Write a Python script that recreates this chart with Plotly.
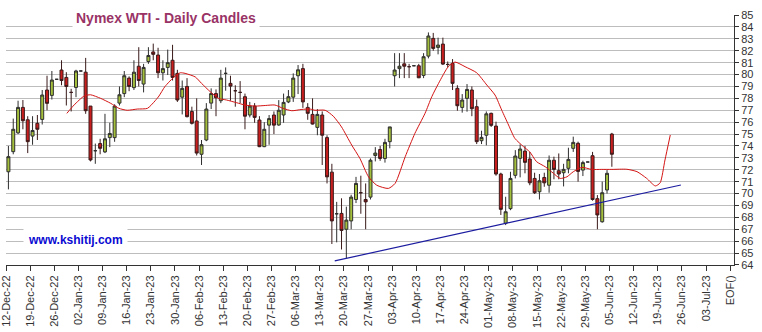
import plotly.graph_objects as go

# Daily OHLC, one slot per weekday starting 12-Dec-22
day = list(range(126))
open_ = [71.83, 73.52, 75.1, 77.24, 76.2, 74.83, 75.9, 76.23, 78.7, 78.25,
         79.6, 80.38, 79.76, 78.5, 78.92, 80.3, 80.2, 77.35, 73.6, 74.2,
         73.5, 74.7, 74.7, 77.6, 78.4, 79.7, 78.9, 80.7, 79.2, 81.1,
         81.9, 81.64, 80.15, 80.6, 81.2, 80.1, 78.1, 79.0, 76.9, 76.1,
         73.3, 74.5, 77.6, 78.4, 77.8, 80.1, 79.26, 78.64, 78.5, 78.14,
         76.6, 77.35, 76.18, 73.94, 75.75, 76.6, 75.76, 76.6, 77.7, 78.1,
         79.9, 80.5, 77.24, 76.65, 75.56, 76.6, 74.7, 71.8, 68.3, 68.33,
         67.0, 67.7, 69.5, 70.07, 69.5, 69.7, 73.2, 73.7, 72.95, 74.36,
         79.9, 80.5, 80.9, 80.66, 80.74, 80.74, 79.93, 81.55, 83.04, 82.28,
         82.56, 80.85, 80.94, 78.84, 77.24, 78.0, 78.7, 77.3, 74.44, 74.9,
         76.74, 75.67, 71.64, 67.5, 68.73, 71.53, 72.96, 73.57, 72.9, 71.27,
         70.15, 71.35, 70.7, 72.8, 71.92, 71.75, 72.12, 73.8, 74.22, 71.97,
         72.65, 73.18, 69.57, 67.63, 70.3, 75.0]
high = [74.0, 76.3, 77.8, 77.86, 76.5, 76.5, 76.6, 78.7, 79.9, 80.3,
        79.6, 81.2, 80.2, 78.8, 80.4, 80.3, 81.4, 77.35, 74.2, 74.6,
        76.7, 75.95, 77.5, 79.0, 80.3, 79.85, 81.2, 82.3, 80.9, 82.3,
        82.6, 82.25, 81.2, 82.1, 82.5, 80.4, 79.5, 79.7, 77.3, 78.0,
        74.5, 77.6, 78.84, 78.75, 80.4, 80.6, 79.9, 79.1, 79.45, 78.4,
        77.7, 77.6, 76.5, 76.0, 76.6, 76.9, 77.85, 78.4, 78.7, 80.1,
        80.8, 80.9, 77.6, 78.0, 77.1, 76.9, 74.9, 72.5, 69.3, 69.6,
        68.9, 69.9, 71.4, 71.5, 70.85, 72.95, 73.9, 74.0, 74.6, 75.6,
        81.8, 81.8, 81.8, 80.9, 80.74, 80.9, 81.8, 83.54, 83.5, 83.1,
        83.1, 81.1, 81.3, 79.1, 78.36, 79.2, 79.0, 77.9, 75.28, 76.9,
        76.8, 76.04, 71.75, 69.73, 71.83, 73.65, 74.13, 74.0, 73.5, 71.75,
        71.64, 71.75, 73.2, 73.1, 73.37, 72.5, 73.85, 74.78, 74.36, 72.76,
        72.65, 73.5, 69.87, 71.0, 71.97, 75.1]
low = [70.35, 73.3, 75.0, 75.4, 73.4, 74.1, 74.5, 75.8, 77.0, 77.9,
       79.6, 79.1, 77.4, 76.9, 78.1, 80.3, 76.7, 72.7, 72.5, 73.3,
       73.4, 73.9, 74.35, 77.4, 78.1, 78.6, 78.7, 79.0, 78.5, 80.9,
       81.2, 79.7, 79.5, 79.96, 79.5, 77.7, 76.65, 76.4, 75.8, 73.2,
       72.4, 74.4, 77.1, 76.5, 77.6, 78.64, 77.8, 77.3, 77.6, 75.4,
       76.4, 75.95, 73.9, 73.9, 74.1, 75.0, 75.7, 75.95, 77.6, 77.7,
       78.36, 77.2, 76.2, 75.8, 74.9, 72.4, 70.85, 65.76, 65.9, 65.3,
       64.55, 67.0, 69.2, 68.3, 67.0, 69.5, 72.7, 72.75, 72.6, 73.8,
       79.0, 79.7, 79.7, 79.7, 80.74, 79.7, 79.7, 81.36, 82.0, 81.7,
       80.8, 80.6, 78.7, 76.96, 76.8, 76.88, 76.5, 74.16, 74.16, 74.05,
       75.6, 71.5, 68.2, 67.35, 68.6, 71.27, 71.36, 71.7, 70.7, 69.96,
       69.5, 70.57, 70.07, 71.2, 71.2, 70.6, 71.7, 73.5, 71.0, 71.47,
       72.65, 69.4, 67.0, 67.55, 70.0, 72.25]
close = [73.1, 75.4, 77.24, 76.12, 74.36, 75.3, 75.4, 78.28, 77.58, 79.54,
         79.6, 79.5, 79.0, 78.5, 80.3, 80.3, 76.96, 72.82, 73.6, 73.8,
         74.6, 75.05, 77.35, 78.3, 79.9, 79.0, 80.2, 79.5, 80.6, 81.6,
         81.7, 80.15, 80.5, 81.0, 79.76, 77.86, 78.84, 76.46, 75.9, 73.4,
         74.1, 77.1, 78.4, 78.05, 79.7, 80.1, 79.03, 78.64, 78.5, 76.5,
         77.35, 76.4, 73.94, 75.4, 76.3, 75.75, 77.0, 77.66, 78.14, 79.7,
         80.4, 77.7, 76.74, 75.84, 76.65, 74.9, 71.4, 67.7, 68.3, 66.9,
         67.77, 69.7, 70.85, 70.07, 69.3, 72.8, 73.4, 72.95, 74.3, 75.6,
         80.38, 80.7, 80.7, 80.66, 80.74, 79.73, 81.5, 83.24, 82.2, 82.48,
         80.88, 80.85, 79.26, 77.38, 77.86, 78.75, 77.13, 74.36, 74.72, 76.7,
         75.73, 71.64, 68.67, 68.47, 71.27, 73.15, 73.74, 72.62, 70.9, 70.07,
         71.07, 70.9, 72.8, 72.03, 71.64, 72.03, 72.87, 74.3, 71.86, 72.6,
         72.65, 69.5, 68.2, 70.07, 71.7, 73.3]

# Forward-displaced moving average
ma_day = [12.1, 13.6, 15.7, 17.0, 19.1, 21.2, 22.9, 24.6, 26.7, 28.8,
          30.4, 31.2, 32.4, 34.5, 35.6, 36.6, 38.7, 40.0, 41.8, 43.5,
          45.2, 47.3, 49.0, 51.1, 53.2, 55.2, 56.9, 58.7, 60.8, 62.5,
          63.5, 65.6, 67.3, 69.0, 71.1, 72.8, 74.6, 76.3, 78.7, 80.1,
          82.2, 84.2, 86.3, 87.7, 89.1, 91.1, 92.5, 94.6, 97.0, 99.1,
          100.8, 102.2, 103.6, 104.9, 106.7, 108.0, 109.4, 111.2, 112.9, 114.3,
          115.7, 117.0, 118.8, 120.8, 122.9, 125.0, 128.1, 130.2, 132.2, 134.0,
          135.0, 136.0, 137.1]
ma_val = [76.74, 77.44, 78.2, 78.3, 78.0, 77.58, 77.16, 77.0, 77.1, 77.16,
          77.8, 78.2, 78.98, 79.87, 80.15, 80.1, 79.8, 79.26, 78.56, 78.0,
          77.86, 77.63, 77.44, 77.35, 77.4, 77.44, 77.16, 76.96, 77.07, 77.1,
          77.0, 77.0, 76.5, 75.6, 74.08, 72.96, 71.4, 70.7, 70.43, 70.85,
          73.1, 75.06, 76.74, 78.14, 79.26, 80.66, 81.05, 80.66, 80.15, 79.12,
          78.28, 77.0, 75.76, 74.64, 73.94, 73.5, 72.68, 72.25, 71.7, 71.27,
          71.41, 71.83, 72.2, 72.03, 72.03, 72.03, 72.04, 71.84, 71.28, 70.64,
          70.9, 72.82, 74.92]

# Support trend line (start and end)
trend_day = [67.6, 139.3]
trend_val = [64.34, 70.72]

tick_labels = ["12-Dec-22", "19-Dec-22", "26-Dec-22", "02-Jan-23", "09-Jan-23",
               "16-Jan-23", "23-Jan-23", "30-Jan-23", "06-Feb-23", "13-Feb-23",
               "20-Feb-23", "27-Feb-23", "06-Mar-23", "13-Mar-23", "20-Mar-23",
               "27-Mar-23", "03-Apr-23", "10-Apr-23", "17-Apr-23", "24-Apr-23",
               "01-May-23", "08-May-23", "15-May-23", "22-May-23", "29-May-23",
               "05-Jun-23", "12-Jun-23", "19-Jun-23", "26-Jun-23", "03-Jul-23",
               "EOF()"]
tick_pos = [5 * k for k in range(len(tick_labels))]

FONT = "Arial, 'Liberation Sans', sans-serif"
slot = [d + 0.5 for d in day]

fig = go.Figure()
fig.add_trace(go.Candlestick(
    x=slot, open=open_, high=high, low=low, close=close,
    increasing=dict(fillcolor="#a3bf3c", line=dict(color="#2e2e2e", width=1)),
    decreasing=dict(fillcolor="#c81e1e", line=dict(color="#3a1a1a", width=1)),
    whiskerwidth=0, showlegend=False, hoverinfo="skip",
))
fig.add_trace(go.Scatter(
    x=[d + 0.5 for d in ma_day], y=ma_val, mode="lines",
    line=dict(color="#d41414", width=1, shape="spline", smoothing=0.6),
    showlegend=False, hoverinfo="skip",
))
fig.add_trace(go.Scatter(
    x=[d + 0.5 for d in trend_day], y=trend_val, mode="lines",
    line=dict(color="#1c1ca0", width=1.2),
    showlegend=False, hoverinfo="skip",
))

fig.add_annotation(
    text="<b>Nymex WTI - Daily Candles</b>", xref="paper", yref="paper",
    x=0.091, y=0.988, xanchor="left", yanchor="middle", showarrow=False,
    font=dict(family=FONT, size=14, color="#993366"),
    bgcolor="white", borderpad=3,
)
fig.add_annotation(
    text="<b>www.kshitij.com</b>", xref="paper", yref="paper",
    x=0.024, y=0.1, xanchor="left", yanchor="middle", showarrow=False,
    font=dict(family=FONT, size=12, color="#0a0ad2"),
    bgcolor="white", borderpad=4,
)

fig.update_layout(
    width=762, height=332,
    margin=dict(l=6, r=28, t=15, b=67, autoexpand=False),
    paper_bgcolor="white", plot_bgcolor="white",
    boxgap=0.12,
    font=dict(family=FONT, size=11, color="#333333"),
    xaxis=dict(
        range=[0, 150.8], rangeslider=dict(visible=False),
        tickmode="array", tickvals=tick_pos, ticktext=tick_labels,
        tickangle=-90, ticks="outside", ticklen=5, tickcolor="#333333",
        ticklabeloverflow="allow", automargin=False,
        showgrid=False, showline=True, linecolor="#333333", linewidth=1,
        zeroline=False, tickfont=dict(size=11, color="#333333"),
    ),
    yaxis=dict(
        range=[63.995, 85.005], side="right",
        tickmode="linear", tick0=64, dtick=1,
        ticks="outside", ticklen=4, tickcolor="#333333",
        ticklabeloverflow="allow", automargin=False,
        showgrid=True, gridcolor="#bdbdbd", gridwidth=1,
        showline=True, linecolor="#333333", linewidth=1,
        zeroline=False, tickfont=dict(size=11, color="#333333"),
    ),
)

fig.write_html("out.html")
